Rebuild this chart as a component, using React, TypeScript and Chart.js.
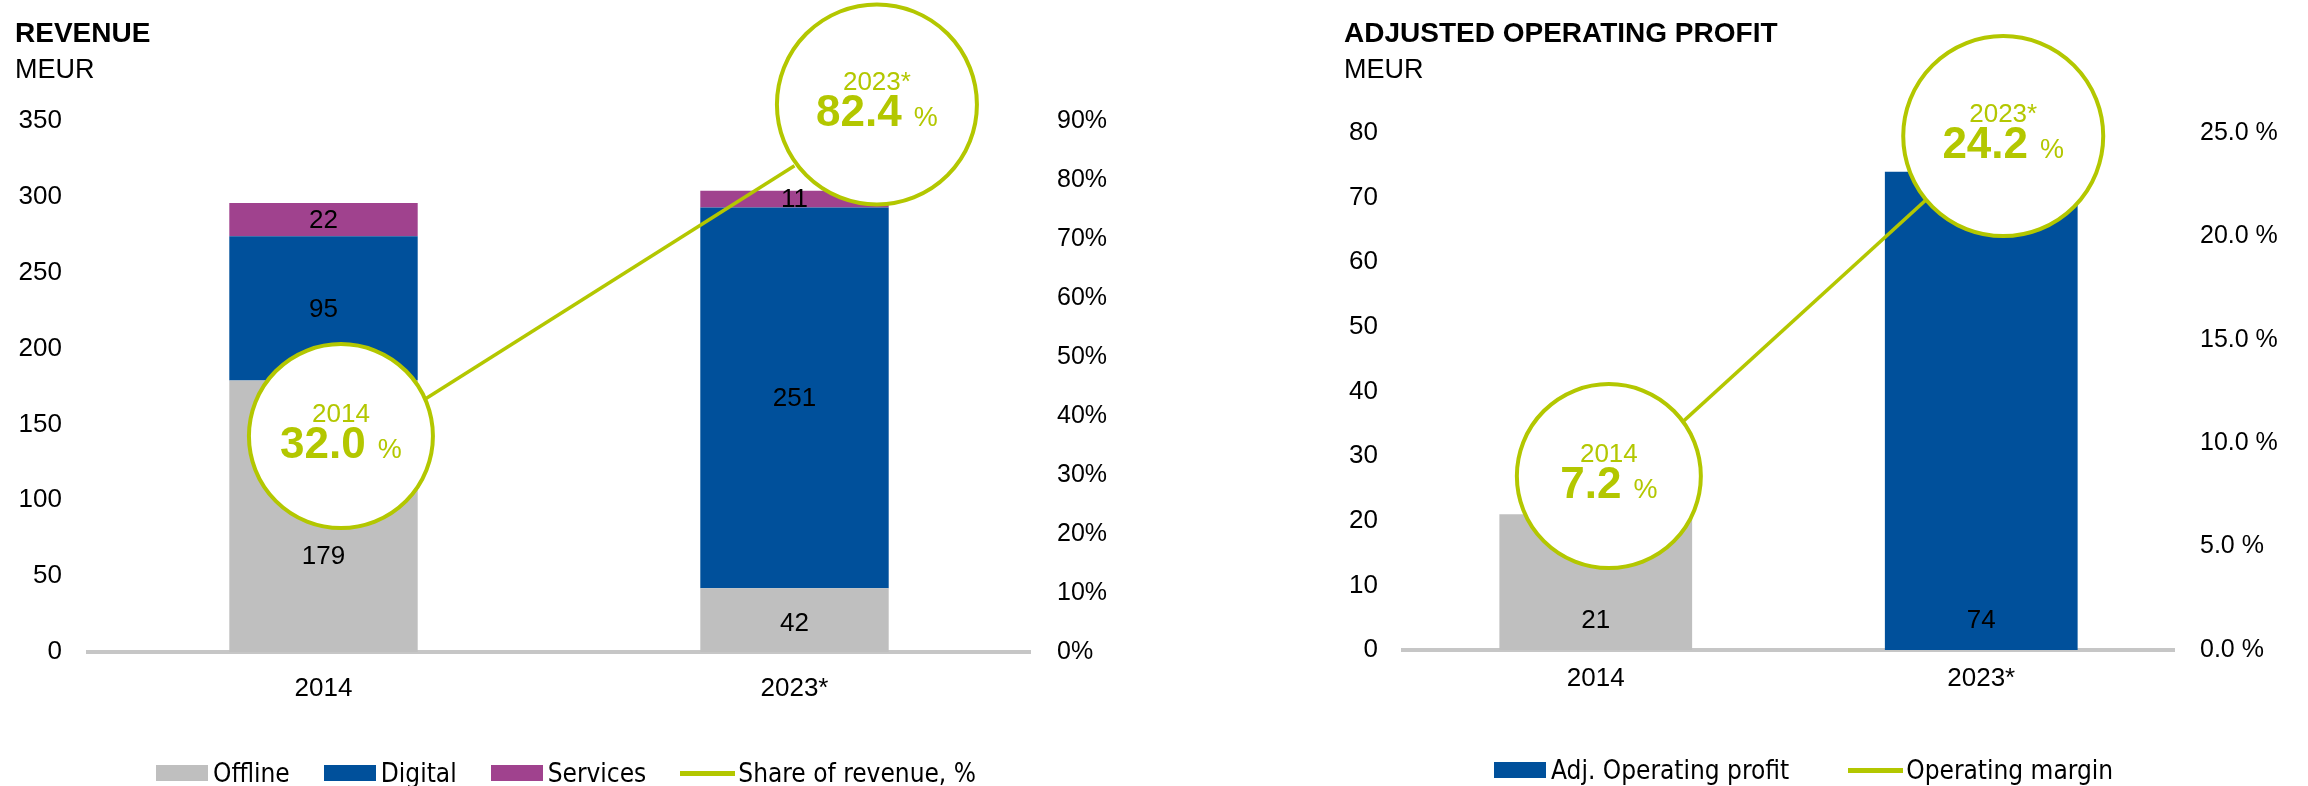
import React, { useEffect, useRef } from 'react';
import { Chart, registerables } from 'chart.js';

Chart.register(...registerables);

// ---------- data ----------
const years = ['2014', '2023*'];

// Revenue, MEUR
const offline = [179, 42];
const digital = [95, 251];
const services = [22, 11];
// Digital share of revenue, %
const digitalShare = [32.0, 82.4];
// MEUR level where the Offline value label sits (2014 label moved below the callout)
const offlineLabelAt = [63.5, 19];
const revenueTicks = { max: 350, step: 50 };
const shareTicks = { max: 90, step: 10 };
// Callout anchors: category offset and % level
const revenueCalloutDx = [0.037, 0.175];
const revenueCalloutAt = [36.6, 92.8];

// Adjusted operating profit, MEUR
const profit = [21, 74];
const operatingMargin = [7.2, 24.2];
const profitLabelAt = [4.6, 4.6];
const profitTicks = { max: 80, step: 10 };
const marginTicks = { max: 25, step: 5 };
const profitCalloutDx = [0.034, 0.057];
const profitCalloutAt = [8.41, 24.85];

const seriesNames = {
  offline: 'Offline',
  digital: 'Digital',
  services: 'Services',
  share: 'Share of revenue, %',
  profit: 'Adj. Operating profit',
  margin: 'Operating margin',
};

// ---------- styles ----------
const GREEN = '#b3c700';
const BLUE = '#00509b';
const GRAY = '#bfbfbf';
const PURPLE = '#a0428e';
const AXIS_GRAY = '#c6c6c6';
const FONT = '"Liberation Sans", Arial, Helvetica, sans-serif';
const LEGEND_FONT = '"DejaVu Sans Condensed", "Liberation Sans", Arial, sans-serif';
const CALLOUT_RADII = [92, 100];

function barLabelPlugin(anchorFor: (di: number, i: number) => number | null) {
  return {
    id: 'barLabels',
    afterDatasetsDraw(chart: any) {
      const ctx = chart.ctx;
      ctx.save();
      ctx.font = `26px ${FONT}`;
      ctx.fillStyle = '#000';
      ctx.textAlign = 'center';
      ctx.textBaseline = 'middle';
      chart.data.datasets.forEach((ds: any, di: number) => {
        if ((ds.type ?? chart.config.type) !== 'bar') return;
        const meta = chart.getDatasetMeta(di);
        meta.data.forEach((el: any, i: number) => {
          const at = anchorFor(di, i);
          const y = at == null ? (el.y + el.base) / 2 : chart.scales.y.getPixelForValue(at);
          ctx.fillText(String(ds.data[i]), el.x, y + 1);
        });
      });
      ctx.restore();
    },
  };
}

function calloutPlugin(values: number[], dx: number[], at: number[]) {
  return {
    id: 'callouts',
    afterDraw(chart: any) {
      const ctx = chart.ctx;
      const xs = chart.scales.x;
      const ys = chart.scales.y1;
      values.forEach((v, i) => {
        const cx = xs.getPixelForValue(i + dx[i]);
        const cy = ys.getPixelForValue(at[i]);
        const r = CALLOUT_RADII[i];
        ctx.save();
        ctx.beginPath();
        ctx.arc(cx, cy, r, 0, Math.PI * 2);
        ctx.fillStyle = '#fff';
        ctx.fill();
        ctx.lineWidth = 4;
        ctx.strokeStyle = GREEN;
        ctx.stroke();
        ctx.fillStyle = GREEN;
        ctx.textBaseline = 'alphabetic';
        ctx.textAlign = 'center';
        ctx.font = `26px ${FONT}`;
        ctx.fillText(years[i], cx, cy - 14);
        const big = v.toFixed(1);
        ctx.font = `bold 44px ${FONT}`;
        const wb = ctx.measureText(big).width;
        ctx.font = `27px ${FONT}`;
        const wp = ctx.measureText('%').width;
        const gap = 12;
        const x0 = cx - (wb + gap + wp) / 2;
        ctx.textAlign = 'left';
        ctx.font = `bold 44px ${FONT}`;
        ctx.fillText(big, x0, cy + 22);
        ctx.font = `27px ${FONT}`;
        ctx.fillText('%', x0 + wb + gap, cy + 22);
        ctx.restore();
      });
    },
  };
}

function axisFont(size: number) {
  return { family: FONT, size };
}

function RevenueChart() {
  const ref = useRef<HTMLCanvasElement>(null);
  useEffect(() => {
    const chart = new Chart(ref.current!, {
      type: 'bar',
      data: {
        labels: years,
        datasets: [
          {
            type: 'line',
            label: seriesNames.share,
            data: digitalShare,
            yAxisID: 'y1',
            borderColor: GREEN,
            borderWidth: 3.5,
            pointRadius: 0,
            order: 0,
          } as any,
          { label: seriesNames.offline, data: offline, backgroundColor: GRAY, yAxisID: 'y', order: 1 },
          { label: seriesNames.digital, data: digital, backgroundColor: BLUE, yAxisID: 'y', order: 1 },
          { label: seriesNames.services, data: services, backgroundColor: PURPLE, yAxisID: 'y', order: 1 },
        ],
      },
      options: {
        animation: false,
        responsive: false,
        devicePixelRatio: 1,
        layout: { padding: { top: 121, left: 0, right: 0, bottom: 0 } },
        datasets: { bar: { barPercentage: 0.4, categoryPercentage: 1 } },
        plugins: { legend: { display: false }, tooltip: { enabled: false } },
        scales: {
          x: {
            stacked: true,
            grid: { display: false, drawTicks: false },
            border: { display: true, color: AXIS_GRAY, width: 4 },
            ticks: { font: axisFont(26), color: '#000', padding: 21 },
            afterFit: (s: any) => { s.height = 134; },
          },
          y: {
            stacked: true,
            position: 'left',
            min: 0,
            max: revenueTicks.max,
            grid: { display: false, drawTicks: false },
            border: { display: false },
            ticks: { stepSize: revenueTicks.step, font: axisFont(26), color: '#000', padding: 26 },
            afterFit: (s: any) => { s.width = 88; },
          },
          y1: {
            position: 'right',
            min: 0,
            max: shareTicks.max,
            grid: { display: false, drawTicks: false },
            border: { display: false },
            ticks: {
              stepSize: shareTicks.step,
              font: axisFont(25),
              color: '#000',
              padding: 27,
              callback: (v: any) => `${v}%`,
            },
            afterFit: (s: any) => { s.width = 120; },
          },
        },
      } as any,
      plugins: [
        barLabelPlugin((di, i) => (di === 1 ? offlineLabelAt[i] : null)),
        calloutPlugin(digitalShare, revenueCalloutDx, revenueCalloutAt),
      ],
    });
    return () => chart.destroy();
  }, []);
  return <canvas ref={ref} width={1150} height={786} style={{ position: 'absolute', left: 0, top: 0 }} />;
}

function ProfitChart() {
  const ref = useRef<HTMLCanvasElement>(null);
  useEffect(() => {
    const chart = new Chart(ref.current!, {
      type: 'bar',
      data: {
        labels: years,
        datasets: [
          {
            type: 'line',
            label: seriesNames.margin,
            data: operatingMargin,
            yAxisID: 'y1',
            borderColor: GREEN,
            borderWidth: 3.5,
            pointRadius: 0,
            order: 0,
          } as any,
          {
            label: seriesNames.profit,
            data: profit,
            backgroundColor: [GRAY, BLUE],
            yAxisID: 'y',
            order: 1,
          },
        ],
      },
      options: {
        animation: false,
        responsive: false,
        devicePixelRatio: 1,
        layout: { padding: { top: 133, left: 0, right: 0, bottom: 0 } },
        datasets: { bar: { barPercentage: 0.5, categoryPercentage: 1 } },
        plugins: { legend: { display: false }, tooltip: { enabled: false } },
        scales: {
          x: {
            grid: { display: false, drawTicks: false },
            border: { display: true, color: AXIS_GRAY, width: 4 },
            ticks: { font: axisFont(26), color: '#000', padding: 13 },
            afterFit: (s: any) => { s.height = 136; },
          },
          y: {
            position: 'left',
            min: 0,
            max: profitTicks.max,
            grid: { display: false, drawTicks: false },
            border: { display: false },
            ticks: { stepSize: profitTicks.step, font: axisFont(26), color: '#000', padding: 25 },
            afterFit: (s: any) => { s.width = 243; },
          },
          y1: {
            position: 'right',
            min: 0,
            max: marginTicks.max,
            grid: { display: false, drawTicks: false },
            border: { display: false },
            ticks: {
              stepSize: marginTicks.step,
              font: axisFont(25),
              color: '#000',
              padding: 26,
              callback: (v: any) => `${Number(v).toFixed(1)} %`,
            },
            afterFit: (s: any) => { s.width = 134; },
          },
        },
      } as any,
      plugins: [
        barLabelPlugin((_di, i) => profitLabelAt[i]),
        calloutPlugin(operatingMargin, profitCalloutDx, profitCalloutAt),
      ],
    });
    return () => chart.destroy();
  }, []);
  return <canvas ref={ref} width={1148} height={786} style={{ position: 'absolute', left: 1160, top: 0 }} />;
}

type LegendEntry = { label: string; color: string; kind: 'box' | 'line' };

function Legend({ items, left, top, gap }: { items: LegendEntry[]; left: number; top: number; gap: number }) {
  return (
    <div
      style={{
        position: 'absolute',
        left,
        top,
        display: 'flex',
        alignItems: 'center',
        gap,
        fontFamily: LEGEND_FONT,
        fontSize: 26,
        lineHeight: '26px',
        color: '#000',
        whiteSpace: 'nowrap',
      }}
    >
      {items.map((it) => (
        <div key={it.label} style={{ display: 'flex', alignItems: 'center' }}>
          {it.kind === 'box' ? (
            <span style={{ display: 'inline-block', width: 52, height: 16, background: it.color, marginRight: 5 }} />
          ) : (
            <span style={{ display: 'inline-block', width: 55, height: 5, background: it.color, marginRight: 3 }} />
          )}
          <span>{it.label}</span>
        </div>
      ))}
    </div>
  );
}

function Title({ left, title }: { left: number; title: string }) {
  return (
    <>
      <div
        style={{
          position: 'absolute',
          left,
          top: 19,
          fontFamily: FONT,
          fontWeight: 'bold',
          fontSize: 28,
          lineHeight: '28px',
          color: '#000',
          whiteSpace: 'nowrap',
        }}
      >
        {title}
      </div>
      <div
        style={{
          position: 'absolute',
          left,
          top: 56,
          fontFamily: FONT,
          fontSize: 27,
          lineHeight: '27px',
          color: '#000',
        }}
      >
        MEUR
      </div>
    </>
  );
}

export default function App() {
  return (
    <div style={{ position: 'absolute', left: 0, top: 0, width: 2308, height: 786, background: '#fff', overflow: 'hidden' }}>
      <RevenueChart />
      <ProfitChart />
      <Title left={15} title="REVENUE" />
      <Title left={1344} title="ADJUSTED OPERATING PROFIT" />
      <Legend
        left={156}
        top={760}
        gap={34}
        items={[
          { label: seriesNames.offline, color: GRAY, kind: 'box' },
          { label: seriesNames.digital, color: BLUE, kind: 'box' },
          { label: seriesNames.services, color: PURPLE, kind: 'box' },
          { label: seriesNames.share, color: GREEN, kind: 'line' },
        ]}
      />
      <Legend
        left={1494}
        top={757}
        gap={59}
        items={[
          { label: seriesNames.profit, color: BLUE, kind: 'box' },
          { label: seriesNames.margin, color: GREEN, kind: 'line' },
        ]}
      />
    </div>
  );
}
